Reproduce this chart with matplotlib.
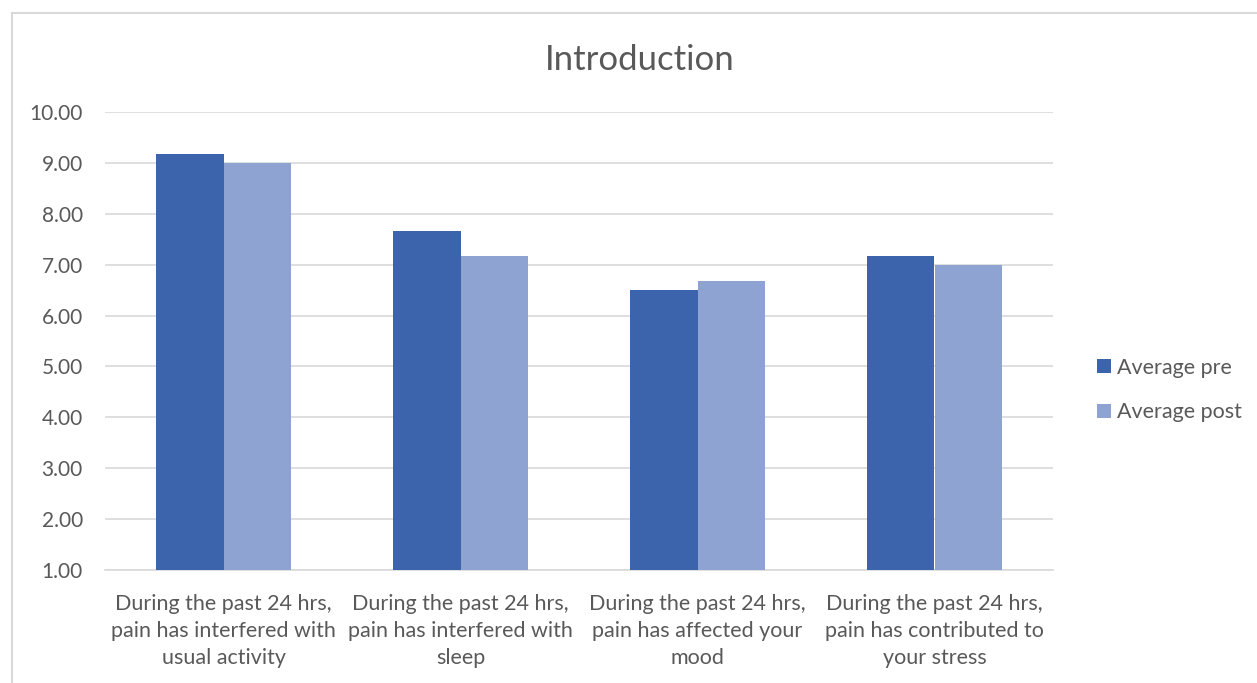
import matplotlib.pyplot as plt
import matplotlib.patches as patches
import numpy as np

# --- DATA ---
categories = [
    "During the past 24 hrs,\npain has interfered with\nusual activity",
    "During the past 24 hrs,\npain has interfered with\nsleep",
    "During the past 24 hrs,\npain has affected your\nmood",
    "During the past 24 hrs,\npain has contributed to\nyour stress",
]
avg_pre = [9.17, 7.67, 6.50, 7.17]
avg_post = [9.00, 7.17, 6.67, 7.00]
series_names = ["Average pre", "Average post"]
yticks = [1, 2, 3, 4, 5, 6, 7, 8, 9, 10]

# --- STYLE ---
plt.rcParams['font.family'] = ['Lato', 'DejaVu Sans']
TEXT = '#595959'
GRID = '#D9D9D9'
C_PRE = '#3C64AD'
C_POST = '#8FA3D3'

W, H = 1257, 683
fig = plt.figure(figsize=(W / 100, H / 100), dpi=100)

# chart border
fig.patches.append(patches.Rectangle((12 / W, -0.05), 1.2, 1 - 13 / H + 0.05,
                                     transform=fig.transFigure, fill=False,
                                     edgecolor=GRID, linewidth=1.5))

ax = fig.add_axes([105 / W, 1 - 570 / H, (1053 - 105) / W, (570 - 112) / H])

x = np.arange(len(categories))
bw = 0.283
ax.bar(x - bw / 2, np.array(avg_pre) - 1, bw, bottom=1, color=C_PRE,
       label=series_names[0], zorder=3)
ax.bar(x + bw / 2, np.array(avg_post) - 1, bw, bottom=1, color=C_POST,
       label=series_names[1], zorder=3)

ax.set_xlim(-0.5, len(categories) - 0.5)
ax.set_ylim(1, 10)
ax.set_yticks(yticks)
ax.set_yticklabels([f"{v:.2f}" for v in yticks])
ax.set_xticks(x)
ax.set_xticklabels(categories, linespacing=1.45)
ax.yaxis.grid(True, color=GRID, linewidth=1.2, zorder=0)
ax.tick_params(axis='y', length=0, labelsize=15, labelcolor=TEXT, pad=16)
ax.tick_params(axis='x', length=0, labelsize=15.5, labelcolor=TEXT, pad=17)
for s in ['top', 'right', 'left']:
    ax.spines[s].set_visible(False)
ax.spines['bottom'].set_color(GRID)
ax.spines['bottom'].set_linewidth(1.2)

fig.text(640 / W, 1 - 60 / H, "Introduction", ha='center', va='center',
         fontsize=25, color=TEXT)

leg = ax.legend(loc='center left', bbox_to_anchor=(1.026, 0.393), frameon=False,
                fontsize=15.5, labelcolor=TEXT, handlelength=0.65,
                handleheight=0.65, handletextpad=0.3, labelspacing=1.15)

fig.savefig("out.png", dpi=100)
